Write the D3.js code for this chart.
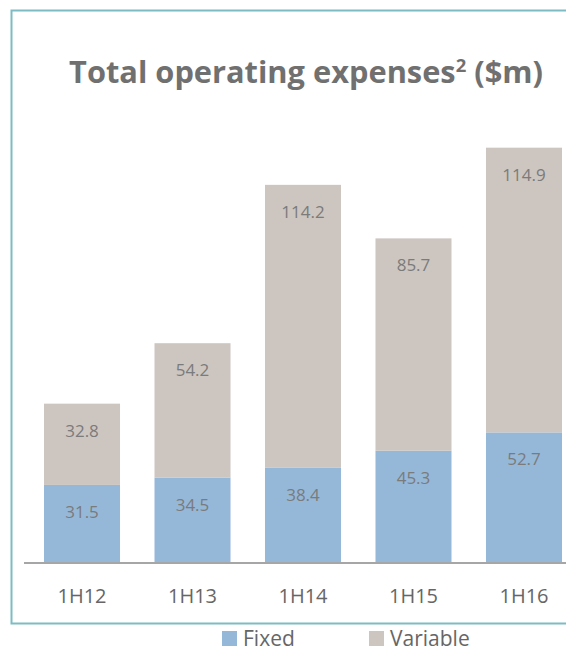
<!DOCTYPE html>
<html>
<head>
<meta charset="utf-8">
<script src="https://cdn.jsdelivr.net/npm/d3@7"></script>
<style>
  body { margin: 0; background: #fff; }
  svg { display: block; font-family: "Open Sans", sans-serif; }
</style>
</head>
<body>
<svg id="chart" width="566" height="652"></svg>
<script>
const categories = ['1H12', '1H13', '1H14', '1H15', '1H16'];
const fixed = [31.5, 34.5, 38.4, 45.3, 52.7];
const variable = [32.8, 54.2, 114.2, 85.7, 114.9];
const seriesNames = ['Fixed', 'Variable'];
const colors = ['#95b8d9', '#cdc6c0'];

const svg = d3.select('#chart');
const baseline = 563;

// frame
svg.append('path')
  .attr('d', 'M600,10.5 H11.5 V623.5 H600')
  .attr('fill', 'none')
  .attr('stroke', '#7dbcc4')
  .attr('stroke-width', 2);

const title = svg.append('text')
  .attr('x', 306)
  .attr('y', 83)
  .attr('text-anchor', 'middle')
  .attr('font-size', 28)
  .attr('font-weight', 'bold')
  .attr('fill', '#707070');
title.append('tspan').text('Total operating expenses');
title.append('tspan').attr('font-size', '0.6em').attr('dy', -11).text('2');
title.append('tspan').attr('dy', 11).text(' ($m)');
// fit title to its width in the reference
const tw = title.node().getComputedTextLength();
title.attr('font-size', 28 * 474 / tw);

const x = d3.scaleBand()
  .domain(categories)
  .range([44, 562])
  .paddingInner(0.312)
  .paddingOuter(0);

const y = d3.scaleLinear()
  .domain([0, 170])
  .range([baseline, baseline - 170 * 2.478]);

const rows = categories.map((c, i) => ({ cat: c, Fixed: fixed[i], Variable: variable[i] }));
const stacked = d3.stack().keys(seriesNames)(rows);

const groups = svg.append('g').selectAll('g')
  .data(stacked)
  .join('g')
  .attr('fill', (d, i) => colors[i]);

groups.selectAll('rect')
  .data(d => d)
  .join('rect')
  .attr('x', d => x(d.data.cat))
  .attr('y', d => y(d[1]))
  .attr('width', x.bandwidth())
  .attr('height', d => y(d[0]) - y(d[1]));

// value labels
stacked.forEach(s => {
  svg.append('g').selectAll('text')
    .data(s)
    .join('text')
    .attr('x', d => x(d.data.cat) + x.bandwidth() / 2)
    .attr('y', d => y(d[1]) + 33)
    .attr('text-anchor', 'middle')
    .attr('font-size', 17)
    .attr('fill', '#7b7b7b')
    .text(d => d.data[s.key].toFixed(1));
});

// axis
const axis = svg.append('g')
  .attr('transform', `translate(0,${baseline})`)
  .call(d3.axisBottom(x).tickSize(0).tickPadding(26));
axis.select('.domain')
  .attr('d', 'M24,0 H566')
  .attr('stroke', '#a6a6a6')
  .attr('stroke-width', 2);
axis.selectAll('text')
  .attr('font-size', 20)
  .attr('font-family', '"Open Sans", sans-serif')
  .attr('fill', '#666');

// legend
const legendX = [222, 369];
const legend = svg.append('g').selectAll('g')
  .data(seriesNames)
  .join('g')
  .attr('transform', (d, i) => `translate(${legendX[i]},631)`);
legend.append('rect')
  .attr('width', 15)
  .attr('height', 15)
  .attr('fill', (d, i) => colors[i]);
legend.append('text')
  .attr('x', 21)
  .attr('y', 14.5)
  .attr('font-size', 21)
  .attr('fill', '#666')
  .text(d => d);
</script>
</body>
</html>
